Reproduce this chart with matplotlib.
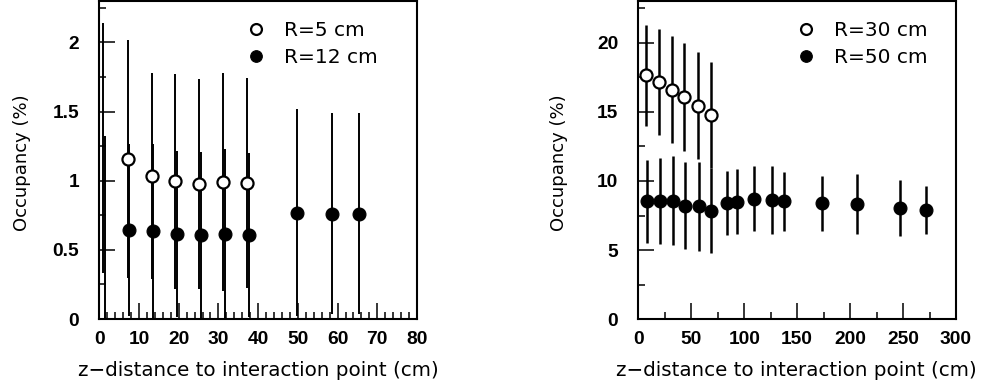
import matplotlib
matplotlib.use("Agg")
import matplotlib.pyplot as plt
from matplotlib.ticker import MultipleLocator, FixedLocator, FixedFormatter

# ---- inner layers (left panel) ----
z_r5 = [7.15, 13.2, 19.15, 25.1, 31.15, 37.1]
occ_r5 = [1.16, 1.036, 0.995, 0.978, 0.99, 0.986]
err_r5 = [0.86, 0.744, 0.778, 0.761, 0.79, 0.76]

z_r12 = [7.6, 13.45, 19.65, 25.6, 31.6, 37.6, 49.7, 58.5, 65.4]
occ_r12 = [0.645, 0.633, 0.616, 0.606, 0.614, 0.606, 0.77, 0.763, 0.763]
err_r12 = [0.62, 0.635, 0.60, 0.60, 0.618, 0.594, 0.75, 0.73, 0.73]

# bins next to the interaction point: only the error bars are shown
z_edge_r5 = [1.05]
occ_edge_r5 = [1.235]
err_edge_r5 = [0.905]
z_edge_r12 = [1.5]
occ_edge_r12 = [0.66]
err_edge_r12 = [0.66]

# ---- outer layers (right panel) ----
z_r30 = [7.0, 19.5, 31.8, 43.4, 56.3, 68.3]
occ_r30 = [17.62, 17.17, 16.6, 16.04, 15.43, 14.78]
err_r30 = [3.66, 3.83, 3.86, 3.89, 3.85, 3.84]

z_r50 = [8.5, 20.8, 32.8, 44.1, 57.0, 68.4, 83.8, 93.2, 109.3, 126.5,
         137.6, 173.7, 206.5, 246.8, 272.0]
occ_r50 = [8.52, 8.57, 8.57, 8.21, 8.16, 7.85, 8.41, 8.48, 8.72, 8.62,
           8.52, 8.38, 8.33, 8.04, 7.90]
err_r50 = [3.0, 3.1, 3.2, 3.15, 3.2, 3.07, 2.3, 2.35, 2.37, 2.47,
           2.15, 2.0, 2.16, 2.05, 1.76]

left_xticks = [0, 10, 20, 30, 40, 50, 60, 70, 80]
left_yticks = [0, 0.5, 1, 1.5, 2]
left_yticklabels = ["0", "0.5", "1", "1.5", "2"]
right_xticks = [0, 50, 100, 150, 200, 250, 300]
right_yticks = [0, 5, 10, 15, 20]

labels_left = ["R=5 cm", "R=12 cm"]
labels_right = ["R=30 cm", "R=50 cm"]
xlabel = "z\u2212distance to interaction point (cm)"
ylabel = "Occupancy (%)"

W, H = 983, 387
fig = plt.figure(figsize=(W / 100, H / 100), dpi=100)

label_font = "DejaVu Sans"


def style_ticklabels(ax):
    for t in ax.get_xticklabels() + ax.get_yticklabels():
        t.set_fontfamily("Liberation Sans")
        t.set_fontweight("bold")
        t.set_fontsize(13.8)


def frame(ax, xmaj, xmin, ymaj, ymin):
    for s in ax.spines.values():
        s.set_linewidth(1.5)
    ax.xaxis.set_major_locator(FixedLocator(xmaj))
    ax.xaxis.set_minor_locator(MultipleLocator(xmin))
    ax.yaxis.set_major_locator(FixedLocator(ymaj))
    ax.yaxis.set_minor_locator(MultipleLocator(ymin))
    ax.tick_params(which="both", direction="in", top=False, right=False,
                   width=1.1, color="black")
    ax.tick_params(which="major", length=11.5)
    ax.tick_params(which="minor", length=5.2)
    ax.tick_params(axis="x", which="major", pad=8.5)
    ax.tick_params(axis="y", which="major", pad=14.5)
    style_ticklabels(ax)


def series(ax, x, y, e, open_marker, lw, zo):
    if open_marker:
        kw = dict(marker="o", ms=8.7, mfc="white", mec="black", mew=1.6)
    else:
        kw = dict(marker="o", ms=9.3, mfc="black", mec="black", mew=0.8)
    ax.errorbar(x, y, yerr=e, fmt="none", ecolor="black",
                elinewidth=lw, capsize=0, zorder=zo)
    pts, = ax.plot(x, y, linestyle="none", zorder=zo + 5, clip_on=False, **kw)
    return pts


def legend(ax, handles, labels, x0):
    ax.legend(handles, labels, loc="upper left",
              bbox_to_anchor=(x0, 0.985), frameon=False,
              prop={"family": label_font, "size": 14.5},
              handlelength=0.8, handletextpad=1.0, labelspacing=0.42,
              borderaxespad=0.35, numpoints=1, markerscale=0.9)


# ---------------- left panel ----------------
axL = fig.add_axes([99.3 / W, 1 - 319 / H, (417 - 99.3) / W, (319 - 1) / H])
axL.set_xlim(0, 80)
axL.set_ylim(0, 2.3)
axL.errorbar(z_edge_r5, occ_edge_r5, yerr=err_edge_r5, fmt="none",
             ecolor="black", elinewidth=1.4, capsize=0, zorder=2)
axL.errorbar(z_edge_r12, occ_edge_r12, yerr=err_edge_r12, fmt="none",
             ecolor="black", elinewidth=1.4, capsize=0, zorder=2)
hB = series(axL, z_r12, occ_r12, err_r12, False, 1.4, 2)
hA = series(axL, z_r5, occ_r5, err_r5, True, 1.4, 3)
frame(axL, left_xticks, 2, left_yticks, 0.25)
axL.yaxis.set_major_formatter(FixedFormatter(left_yticklabels))
style_ticklabels(axL)
legend(axL, [hA, hB], labels_left, 0.42)

# ---------------- right panel ----------------
axR = fig.add_axes([638.3 / W, 1 - 319.3 / H, (956 - 638.3) / W, (319.3 - 1) / H])
axR.set_xlim(0, 300)
axR.set_ylim(0, 23)
hD = series(axR, z_r50, occ_r50, err_r50, False, 1.8, 2)
hC = series(axR, z_r30, occ_r30, err_r30, True, 1.8, 3)
frame(axR, right_xticks, 25, right_yticks, 2.5)
legend(axR, [hC, hD], labels_right, 0.455)

# ---------------- axis titles ----------------
fig.text(258 / W, 1 - 371 / H, xlabel, ha="center", va="center",
         family=label_font, size=14.3)
fig.text(796 / W, 1 - 371 / H, xlabel, ha="center", va="center",
         family=label_font, size=14.3)
fig.text(22 / W, 1 - 163 / H, ylabel, ha="center", va="center",
         rotation=90, family=label_font, size=13.0)
fig.text(559 / W, 1 - 163 / H, ylabel, ha="center", va="center",
         rotation=90, family=label_font, size=13.0)

fig.savefig("out.png", dpi=100)
